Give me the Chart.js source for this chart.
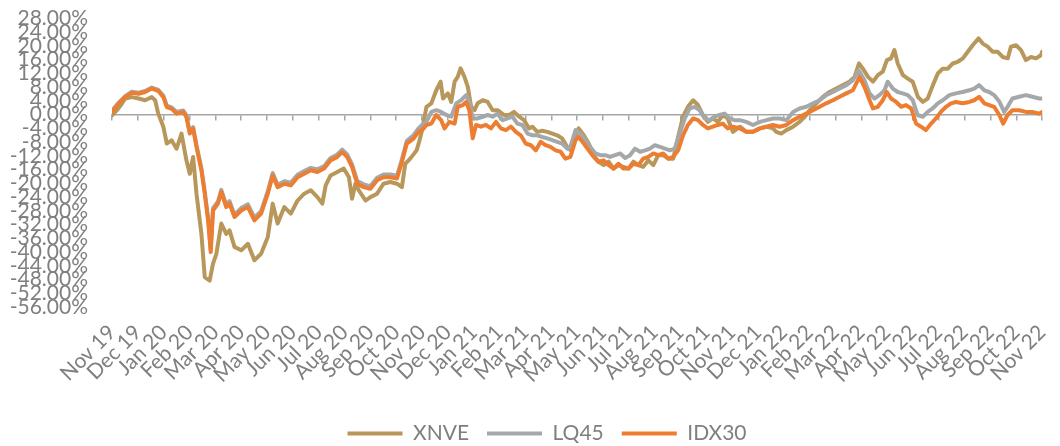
<!DOCTYPE html>
<html>
<head>
<meta charset="utf-8">
<script src="https://cdn.jsdelivr.net/npm/chart.js@4.4.0/dist/chart.umd.min.js"></script>
<style>
  html, body { margin: 0; padding: 0; background: #fff; }
  #wrap { width: 1060px; height: 446px; }
</style>
</head>
<body>
<div id="wrap"><canvas id="perfChart" width="1060" height="446"></canvas></div>
<script>
// month labels on the x axis, one per tick (x value = month index from Nov 19)
var monthLabels = ['Nov 19', 'Dec 19',
  'Jan 20', 'Feb 20', 'Mar 20', 'Apr 20', 'May 20', 'Jun 20', 'Jul 20', 'Aug 20', 'Sep 20', 'Oct 20', 'Nov 20', 'Dec 20',
  'Jan 21', 'Feb 21', 'Mar 21', 'Apr 21', 'May 21', 'Jun 21', 'Jul 21', 'Aug 21', 'Sep 21', 'Oct 21', 'Nov 21', 'Dec 21',
  'Jan 22', 'Feb 22', 'Mar 22', 'Apr 22', 'May 22', 'Jun 22', 'Jul 22', 'Aug 22', 'Sep 22', 'Oct 22', 'Nov 22'];

var yMin = -56, yMax = 28, yStep = 4;

// [month index, return %]
var xnve = [[0,-0.2],[0.19,1.3],[0.38,3.2],[0.51,4.7],[0.77,5.1],[1.03,4.7],[1.28,4.2],[1.54,5.1],[1.67,4.2],[1.79,0.3],
  [1.99,-3.6],[2.12,-8.4],[2.31,-7.5],[2.5,-9.9],[2.69,-5.5],[2.88,-13.3],[3.01,-17.2],[3.14,-12.3],[3.27,-23],[3.46,-34.7],
  [3.59,-47.3],[3.78,-48.3],[3.91,-43.4],[4.04,-40.5],[4.23,-31.7],[4.42,-34.7],[4.55,-33.7],[4.74,-38.5],[5.0,-39.5],[5.26,-37.6],
  [5.51,-42.4],[5.77,-40.5],[6.03,-35.6],[6.22,-25.9],[6.41,-31.7],[6.67,-26.9],[6.92,-28.8],[7.18,-25],[7.44,-23],[7.69,-22],
  [7.95,-24],[8.14,-25.9],[8.27,-20.6],[8.46,-17.7],[8.72,-16.7],[8.97,-15.7],[9.17,-18.2],[9.29,-24.5],[9.42,-20.1],[9.55,-22],
  [9.81,-25],[10.0,-24],[10.26,-23],[10.51,-20.1],[10.77,-19.6],[11.03,-20.1],[11.22,-21.1],[11.35,-14.3],[11.54,-12.8],[11.79,-10.4],
  [11.9,-7.5],[12,-4.5],[12.17,2.3],[12.36,3.3],[12.55,7.1],[12.72,9.6],[12.81,4.7],[13.0,6.2],[13.13,3.7],[13.26,9.6],
  [13.38,11],[13.49,13.5],[13.64,11],[13.77,8.1],[13.9,2.3],[14.03,1.3],[14.15,3.3],[14.35,4.2],[14.54,3.7],[14.73,1.3],
  [14.92,1.3],[15.18,-0.1],[15.37,-0.1],[15.56,0.8],[15.76,-0.6],[15.95,-1.6],[16.14,-4],[16.27,-3.5],[16.46,-5],[16.65,-4.7],
  [16.85,-5],[17.04,-5.5],[17.23,-6],[17.42,-6.9],[17.62,-9.4],[17.74,-10.3],[17.94,-6],[18.06,-4],[18.26,-6],[18.45,-8.4],
  [18.64,-11.8],[18.83,-13.7],[19.03,-14.7],[19.22,-13.7],[19.41,-15.7],[19.6,-14.7],[19.79,-15.2],[19.99,-15.7],[20.18,-13.7],[20.37,-14.7],
  [20.56,-15.2],[20.76,-13.3],[20.95,-14.7],[21.14,-11.8],[21.33,-11.8],[21.53,-12.8],[21.72,-12.8],[21.91,-6.5],[22.1,-0.6],[22.29,2.3],
  [22.49,4.2],[22.68,2.8],[22.87,-0.1],[23.06,-2.1],[23.26,-1.1],[23.45,-2.1],[23.64,-0.1],[23.83,-1.1],[24.03,-5],[24.3,-3.5],
  [24.55,-5],[24.81,-5],[25.07,-4],[25.33,-3.5],[25.58,-4],[25.71,-5],[25.9,-5.5],[26.1,-4.5],[26.36,-3.5],[26.61,-2.1],
  [26.81,-0.6],[27,1.3],[27.26,3.3],[27.51,5.2],[27.77,6.6],[28.03,7.6],[28.29,8.6],[28.54,9.6],[28.74,11],[28.91,14.9],
  [29.06,13.4],[29.26,11],[29.45,9.6],[29.64,11.5],[29.83,12.5],[29.99,15.9],[30.15,16.4],[30.28,18.8],[30.41,14.9],[30.61,11.5],
  [30.8,10.5],[30.99,9.6],[31.19,5.2],[31.38,3.7],[31.57,4.7],[31.77,8.6],[31.96,12],[32.15,13.4],[32.35,13.4],[32.54,14.9],
  [32.73,15.4],[32.93,16.4],[33.12,18.3],[33.31,20.2],[33.54,22.2],[33.7,20.7],[33.89,19.8],[34.09,18.3],[34.28,18.3],[34.47,16.8],
  [34.67,16.4],[34.79,19.8],[34.99,20.2],[35.18,18.8],[35.37,15.9],[35.57,16.8],[35.76,16.4],[35.95,17.3],[36,18.3]];

var lq45 = [[0,1.2],[0.26,3.5],[0.51,5.4],[0.77,6.7],[1.03,6.4],[1.28,6.9],[1.54,7.9],[1.79,7.2],[1.99,5.5],[2.12,2.6],
  [2.31,2.1],[2.5,0.8],[2.76,1.2],[2.88,-0.2],[3.01,-5.0],[3.14,-3.6],[3.27,-8.9],[3.46,-15.6],[3.59,-22.4],[3.72,-30.1],
  [3.82,-39.2],[3.91,-27.2],[4.1,-25.3],[4.23,-21.9],[4.42,-26.2],[4.55,-25.2],[4.74,-29.1],[5.0,-27.2],[5.26,-26.1],[5.51,-30.0],
  [5.77,-28.1],[6.03,-22.3],[6.22,-17.0],[6.41,-20.4],[6.67,-19.4],[6.92,-19.8],[7.18,-17.5],[7.44,-16.4],[7.69,-15.5],[7.95,-15.9],
  [8.21,-15.0],[8.46,-12.6],[8.72,-11.6],[8.91,-10.2],[9.1,-11.6],[9.29,-14.5],[9.49,-19.3],[9.74,-20.3],[10.0,-20.8],[10.26,-18.4],
  [10.51,-17.4],[10.77,-17.4],[11.03,-17.8],[11.22,-13.0],[11.41,-7.6],[11.67,-6.0],[11.86,-4.0],[12,-3],[12.17,-2.1],[12.36,0.8],
  [12.55,1.3],[12.74,0.8],[12.94,-0.1],[13.13,-0.6],[13.32,3.3],[13.51,4.2],[13.71,5.7],[13.83,3.7],[13.96,-1.1],[14.15,-1.1],
  [14.35,-0.6],[14.54,-0.1],[14.73,-0.6],[14.92,0.3],[15.12,-1.6],[15.31,-1.1],[15.5,-0.6],[15.69,-2.6],[15.88,-3],[16.08,-5.5],
  [16.27,-6],[16.46,-6],[16.65,-6.5],[16.85,-6.9],[17.04,-7.4],[17.23,-7.9],[17.42,-8.4],[17.62,-9.9],[17.74,-9.4],[17.94,-4.5],
  [18.13,-5.5],[18.32,-7.4],[18.51,-9.4],[18.71,-11.3],[18.9,-11.8],[19.09,-11.8],[19.28,-12.3],[19.47,-11.8],[19.67,-11.3],[19.86,-12.6],
  [20.05,-11.8],[20.24,-9.9],[20.44,-10.8],[20.63,-10.4],[20.82,-9.9],[21.01,-8.9],[21.21,-9.4],[21.4,-9.9],[21.59,-10.4],[21.78,-9.9],
  [21.97,-5.5],[22.17,-1.1],[22.36,1.8],[22.55,2.3],[22.74,1.3],[22.94,-1.1],[23.13,-1.6],[23.32,-0.6],[23.51,-0.1],[23.71,0.3],
  [23.9,-1.1],[24.09,-1.6],[24.3,-1.6],[24.55,-2.1],[24.81,-3],[25.07,-2.1],[25.33,-1.6],[25.58,-1.1],[25.84,-1.1],[26.1,-1.6],
  [26.36,0.8],[26.61,1.8],[26.87,2.3],[27.13,3.3],[27.39,4.2],[27.64,5.7],[27.9,6.6],[28.16,7.6],[28.42,8.6],[28.67,10],
  [28.9,12.9],[29.12,10],[29.32,6.2],[29.51,4.7],[29.7,5.7],[29.9,7.1],[30.02,9.6],[30.22,7.6],[30.41,6.6],[30.6,6.2],
  [30.8,5.7],[30.99,4.2],[31.18,-0.1],[31.38,-0.6],[31.57,0.8],[31.76,1.8],[31.96,3.3],[32.15,4.2],[32.41,5.7],[32.66,6.2],
  [32.92,6.6],[33.18,7.1],[33.37,7.6],[33.56,8.6],[33.76,7.1],[33.95,6.6],[34.14,5.7],[34.34,3.8],[34.53,0.8],[34.66,2.3],
  [34.85,4.7],[35.11,5.2],[35.37,5.7],[35.62,5.2],[35.88,4.7],[36,4.7]];

var idx30 = [[0,0.8],[0.26,3.2],[0.51,5.1],[0.77,6.4],[1.03,6.1],[1.28,6.6],[1.54,7.6],[1.79,6.9],[1.99,5.1],[2.12,2.2],
  [2.31,1.7],[2.5,0.3],[2.76,0.8],[2.88,-0.7],[3.01,-5.5],[3.14,-4.1],[3.27,-9.4],[3.46,-16.2],[3.59,-23],[3.72,-30.8],
  [3.82,-40],[3.91,-27.9],[4.1,-25.9],[4.23,-22.5],[4.42,-26.9],[4.55,-25.9],[4.74,-29.8],[5.0,-27.9],[5.26,-26.9],[5.51,-30.8],
  [5.77,-28.8],[6.03,-23],[6.22,-17.7],[6.41,-21.1],[6.67,-20.1],[6.92,-20.6],[7.18,-18.2],[7.44,-17.2],[7.69,-16.2],[7.95,-16.7],
  [8.21,-15.7],[8.46,-13.3],[8.72,-12.3],[8.91,-10.9],[9.1,-12.3],[9.29,-15.2],[9.49,-20.1],[9.74,-21.1],[10.0,-21.6],[10.26,-19.1],
  [10.51,-18.2],[10.77,-18.2],[11.03,-18.6],[11.22,-13.8],[11.41,-8.4],[11.67,-7.0],[11.86,-5.0],[12,-4.5],[12.17,-3],[12.36,-2.6],
  [12.55,-0.1],[12.74,-1.6],[12.87,-4],[13.06,-2.1],[13.26,-2.6],[13.38,2.3],[13.58,2.8],[13.71,3.7],[13.83,1.3],[13.96,-6.9],
  [14.09,-3],[14.28,-3.5],[14.47,-3],[14.67,-4],[14.86,-2.1],[15.05,-4],[15.24,-4.5],[15.44,-3.5],[15.63,-5],[15.82,-6],
  [16.01,-8.4],[16.21,-8.9],[16.4,-10.4],[16.59,-7.9],[16.78,-8.9],[16.97,-9.4],[17.17,-10.4],[17.36,-10.8],[17.55,-12.8],[17.74,-12.3],
  [17.94,-7.4],[18.06,-6.5],[18.26,-8.4],[18.45,-10.4],[18.64,-12.3],[18.83,-13.7],[19.03,-13.3],[19.22,-14.7],[19.41,-15.7],[19.6,-14.3],
  [19.79,-15.7],[19.99,-15.7],[20.18,-14.3],[20.37,-14.7],[20.56,-12.8],[20.76,-12.3],[20.95,-11.3],[21.14,-11.8],[21.33,-11.3],[21.53,-12.8],
  [21.72,-12.3],[21.91,-10.4],[22.1,-6],[22.29,-3],[22.49,-1.1],[22.68,-1.6],[22.87,-3],[23.06,-4],[23.26,-3.5],[23.45,-3],
  [23.64,-2.6],[23.83,-4],[24.03,-3.5],[24.3,-4],[24.55,-5],[24.81,-5],[25.07,-4],[25.33,-3.5],[25.58,-3],[25.84,-3.5],
  [26.1,-3],[26.36,-1.6],[26.61,-0.6],[26.87,0.3],[27.13,1.3],[27.39,2.3],[27.64,3.3],[27.9,4.2],[28.16,5.2],[28.42,6.2],
  [28.67,7.1],[28.93,11],[29.12,8.1],[29.32,4.2],[29.45,1.8],[29.64,2.3],[29.83,4.2],[29.99,6.6],[30.15,4.7],[30.35,3.7],
  [30.54,2.3],[30.73,2.8],[30.93,1.8],[31.12,-2.6],[31.31,-3.5],[31.5,-4.5],[31.7,-2.6],[31.89,-1.1],[32.08,0.8],[32.28,2.3],
  [32.47,3.3],[32.66,3.7],[32.92,3.3],[33.18,3.7],[33.37,4.2],[33.56,5.2],[33.76,3.3],[33.95,2.8],[34.14,2.3],[34.34,-0.1],
  [34.49,-2.6],[34.66,-0.1],[34.85,1.3],[35.11,1.3],[35.37,0.8],[35.62,0.8],[35.88,0.3],[36,0.8]];

var txtGrey = '#7f7f7f';
Chart.defaults.font.family = 'Lato, "Open Sans", sans-serif';
Chart.defaults.color = txtGrey;

function lineSet(label, data, color, order) {
  return {
    label: label, data: data, order: order,
    borderColor: color, backgroundColor: color,
    borderWidth: 4, borderCapStyle: 'round', borderJoinStyle: 'round',
    pointRadius: 0, tension: 0
  };
}

// legend in the original sits a bit right of the canvas centre
var legendNudge = {
  id: 'legendNudge',
  afterLayout: function(chart) {
    chart.legend.left += 23;
    chart.legend.right += 23;
  }
};

var ctx = document.getElementById('perfChart').getContext('2d');
var chart = new Chart(ctx, {
  type: 'line',
  data: {
    datasets: [
      lineSet('XNVE', xnve, '#b8975a', 3),
      lineSet('LQ45', lq45, '#a5a8ab', 2),
      lineSet('IDX30', idx30, '#ed7d31', 1)
    ]
  },
  plugins: [legendNudge],
  options: {
    responsive: false,
    animation: false,
    layout: { padding: { top: 18.5, right: 12, left: 0, bottom: -8 } },
    plugins: {
      tooltip: { enabled: false },
      legend: {
        position: 'bottom',
        labels: {
          usePointStyle: true, pointStyle: 'line', pointStyleWidth: 55,
          padding: 18, color: txtGrey, font: { size: 21 },
          sort: function(a, b) { return a.datasetIndex - b.datasetIndex; }
        }
      }
    },
    scales: {
      x: {
        type: 'linear', axis: 'x', position: 'bottom', min: 0, max: monthLabels.length - 1,
        // tick marks hidden, tickLength only pushes the labels down
        grid: { display: false, drawTicks: true, tickLength: 13 }, border: { display: false },
        ticks: {
          stepSize: 1, autoSkip: false, maxRotation: 45, minRotation: 45, padding: 0,
          font: { size: 21 },
          callback: function(v) { return monthLabels[v]; }
        },
        afterFit: function(s) { s.height = 98; }
      },
      // axis line crossing at 0 with the month tick marks
      xz: {
        type: 'linear', axis: 'x', position: { y: 0 }, min: 0, max: monthLabels.length - 1,
        ticks: { display: false, stepSize: 1, autoSkip: false, padding: 0 },
        grid: { drawOnChartArea: false, drawTicks: true, tickLength: 5, color: '#a6a6a6', lineWidth: 1.5 },
        border: { color: '#a6a6a6', width: 1.5 }
      },
      y: {
        min: yMin, max: yMax,
        grid: { display: false, drawTicks: true, tickLength: 21 }, border: { display: false },
        ticks: {
          stepSize: yStep, autoSkip: false, padding: 3, font: { size: 21 },
          callback: function(v) { return v.toFixed(2) + '%'; }
        },
        afterFit: function(s) { s.width = 112; }
      }
    }
  }
});
</script>
</body>
</html>
